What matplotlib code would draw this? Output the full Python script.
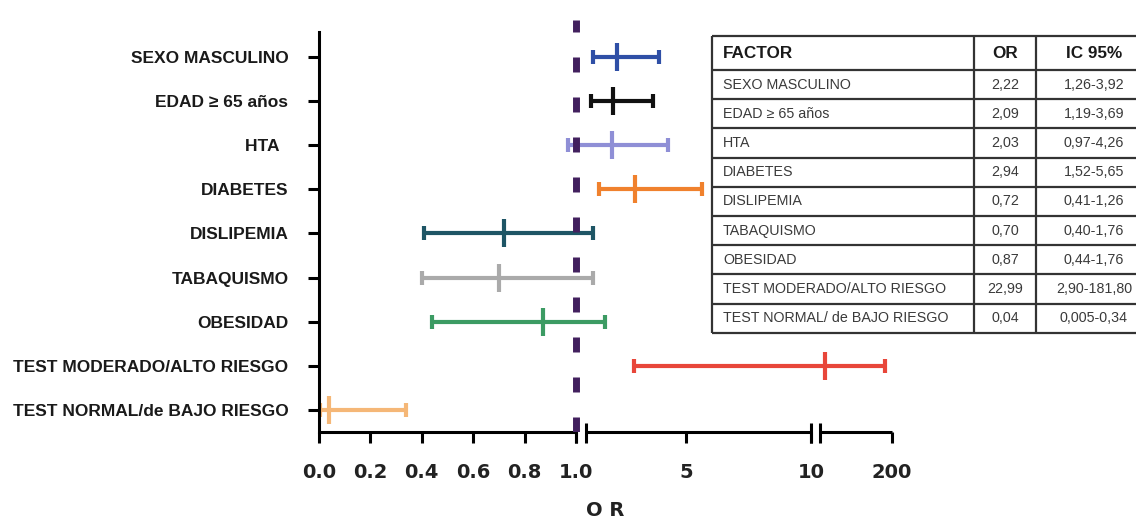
import numpy as np
import matplotlib
matplotlib.use("Agg")
import matplotlib.pyplot as plt

# ---- data ----
factors = ["SEXO MASCULINO", "EDAD ≥ 65 años", "HTA  ", "DIABETES", "DISLIPEMIA",
           "TABAQUISMO", "OBESIDAD", "TEST MODERADO/ALTO RIESGO",
           "TEST NORMAL/de BAJO RIESGO"]
odds = [2.22, 2.09, 2.03, 2.94, 0.72, 0.70, 0.87, 22.99, 0.04]
ci_low = [1.26, 1.19, 0.97, 1.52, 0.41, 0.40, 0.44, 2.90, 0.005]
ci_high = [3.92, 3.69, 4.26, 5.65, 1.26, 1.26, 1.76, 181.80, 0.34]
colors = ["#2f4fa6", "#111111", "#8f8fd6", "#f0812d", "#1e5565",
          "#aaaaaa", "#3c9b63", "#e8463a", "#f5b777"]

xticks = [0.0, 0.2, 0.4, 0.6, 0.8, 1.0, 5, 10, 200]
xticklabels = ["0.0", "0.2", "0.4", "0.6", "0.8", "1.0", "5", "10", "200"]

# table on the right
table_header = ["FACTOR", "OR", "IC 95%"]
table_factor = ["SEXO MASCULINO", "EDAD ≥ 65 años", "HTA", "DIABETES", "DISLIPEMIA",
                "TABAQUISMO", "OBESIDAD", "TEST MODERADO/ALTO RIESGO",
                "TEST NORMAL/ de BAJO RIESGO"]
table_or = ["2,22", "2,09", "2,03", "2,94", "0,72", "0,70", "0,87", "22,99", "0,04"]
table_ic = ["1,26-3,92", "1,19-3,69", "0,97-4,26", "1,52-5,65", "0,41-1,26",
            "0,40-1,76", "0,44-1,76", "2,90-181,80", "0,005-0,34"]


# broken x axis: 0-1 linear, 1-10 linear, 10-200 linear, with small gaps
def fwd(x):
    x = np.asarray(x, dtype=float)
    return np.where(x <= 1, x * 257,
                    np.where(x <= 10, 267 + (x - 1) * 25,
                             501 + (x - 10) * 72 / 190))


def inv(p):
    p = np.asarray(p, dtype=float)
    return np.where(p <= 257, p / 257,
                    np.where(p <= 267, 1.0,
                             np.where(p <= 492, 1 + (p - 267) / 25,
                                      np.where(p <= 501, 10.0,
                                               10 + (p - 501) * 190 / 72))))


W, H = 1136, 519
fig = plt.figure(figsize=(W / 100, H / 100), dpi=100)
ax = fig.add_axes([319 / W, (H - 432) / H, 573 / W, (432 - 20) / H])
ax.set_xscale("function", functions=(fwd, inv))
ax.set_xlim(0, 200)
ax.set_ylim(-0.5, 8.84)

n = len(factors)
ypos = [n - 1 - i for i in range(n)]

for i in range(n):
    ax.errorbar(odds[i], ypos[i],
                xerr=[[odds[i] - ci_low[i]], [ci_high[i] - odds[i]]],
                fmt="none", ecolor=colors[i], elinewidth=3, capsize=5, capthick=3)
    ax.plot(odds[i], ypos[i], marker="|", ms=20, mew=3, color=colors[i])

# reference line at OR = 1
ax.axvline(1.0, color="#42205e", lw=5, dashes=(2.16, 3.6), zorder=5)

# axes styling
for s in ["top", "right", "bottom"]:
    ax.spines[s].set_visible(False)
ax.spines["left"].set_linewidth(2.2)
ax.spines["left"].set_bounds(-0.5, 8.57)

ax.set_yticks(ypos)
ax.set_yticklabels(factors, fontsize=12.5, fontweight="bold",
                   family=["Liberation Sans", "DejaVu Sans"], color="#1a1a1a")
ax.tick_params(axis="y", length=8, width=2.2, pad=14)

ax.set_xticks(xticks)
ax.set_xticks([], minor=True)
ax.set_xticklabels(xticklabels, fontsize=14, fontweight="bold",
                   family="DejaVu Sans", color="#222222")
ax.tick_params(axis="x", length=8, width=2.2, pad=14)

# bottom axis drawn in three pieces with break marks
eps = 1e-9
for a, b in [(0, 1), (1 + eps, 10), (10 + eps, 200)]:
    ax.plot([a, b], [-0.5, -0.5], color="black", lw=2.2, clip_on=False,
            solid_capstyle="butt")
for bx in [1.0, 1.0 + eps, 10.0, 10.0 + eps]:
    ax.plot([bx, bx], [-0.75, -0.29], color="black", lw=2.2, clip_on=False,
            solid_capstyle="butt")

ax.set_xlabel("O R", fontsize=14, fontweight="bold", family="DejaVu Sans",
              color="#222222", labelpad=14)

# ---- table ----
tx = fig.add_axes([0, 0, 1, 1])
tx.set_xlim(0, W)
tx.set_ylim(H, 0)
tx.axis("off")

left, c1, c2, right = 712, 974, 1036, 1136
top, head_bottom, row_h = 36, 70, 29.2
bottom = head_bottom + row_h * len(table_factor)
tx.add_patch(plt.Rectangle((left, top), right - left, bottom - top,
                           facecolor="white", edgecolor="none"))
line_kw = dict(color="#333333", lw=1.6, solid_capstyle="butt")
tx.plot([left, right], [top, top], **line_kw)
tx.plot([left, right], [head_bottom, head_bottom], **line_kw)
for r in range(1, len(table_factor) + 1):
    yy = head_bottom + row_h * r
    tx.plot([left, right], [yy, yy], **line_kw)
for xx in [left, c1, c2]:
    tx.plot([xx, xx], [top, bottom], **line_kw)

head_y = (top + head_bottom) / 2
hkw = dict(fontsize=12.3, fontweight="bold", family="Liberation Sans",
           color="#1a1a1a", va="center")
tx.text(left + 11, head_y, table_header[0], ha="left", **hkw)
tx.text((c1 + c2) / 2, head_y, table_header[1], ha="center", **hkw)
tx.text(1094, head_y, table_header[2], ha="center", **hkw)

bkw = dict(fontsize=10.3, family=["Liberation Sans", "DejaVu Sans"],
           color="#3a3a3a", va="center")
for r in range(len(table_factor)):
    yy = head_bottom + row_h * (r + 0.5)
    tx.text(left + 11, yy, table_factor[r], ha="left", **bkw)
    tx.text((c1 + c2) / 2, yy, table_or[r], ha="center", **bkw)
    tx.text(1094, yy, table_ic[r], ha="center", **bkw)

fig.savefig("out.png", dpi=100)
